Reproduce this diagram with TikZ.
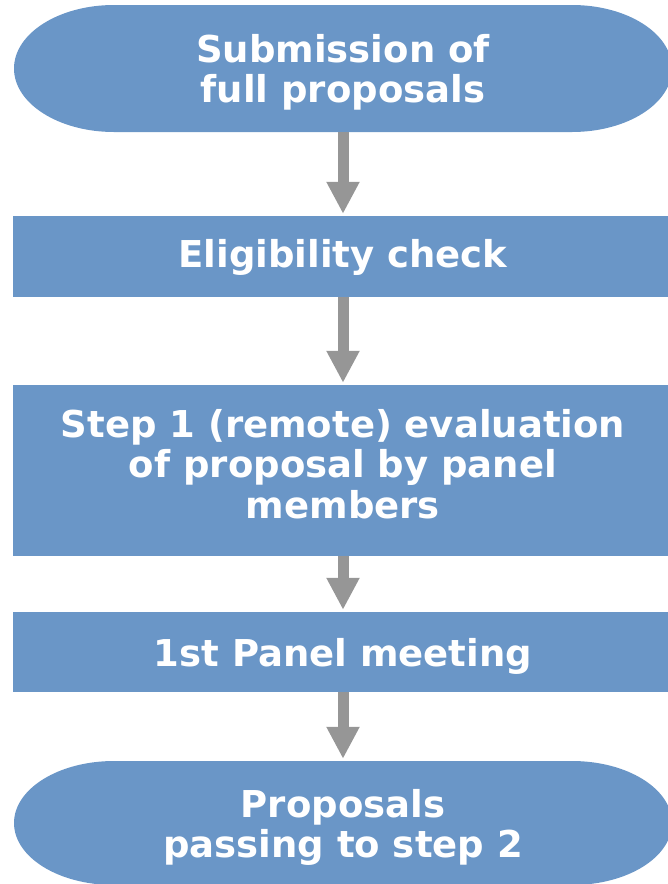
\documentclass[tikz,border=0pt]{standalone}
\usepackage{fontspec}
\setmainfont{DejaVu Sans}
\usetikzlibrary{arrows.meta}
\definecolor{boxblue}{RGB}{106,150,199}
\definecolor{arrowgray}{RGB}{150,150,150}
\tikzset{
  steptext/.style={text=white, font=\bfseries\fontsize{37}{40.5}\selectfont, align=center, inner sep=0pt, minimum width=660pt},
  stepbox/.style={steptext, fill=boxblue},
  flowarrow/.style={draw=arrowgray, line width=11pt, -{Triangle[width=31pt,length=32pt,fill=arrowgray]}, shorten >=2pt},
}
\def\termfill#1#2{\fill[boxblue, shift={(#1)}] (-229,#2) -- (229,#2) arc[start angle=90, end angle=-90, x radius=100, y radius=#2] -- (-229,-#2) arc[start angle=270, end angle=90, x radius=100, y radius=#2] -- cycle;}

\begin{document}
\begin{tikzpicture}[x=1pt, y=1pt]
        \useasboundingbox (0,0) rectangle (668,-884);
        \coordinate (c1) at (343,-68.5);
        \coordinate (c5) at (343,-823);
        \termfill{c1}{63.5}
        \termfill{c5}{62}
        \node[steptext, minimum height=119pt] (sub) at (343,-72.5) {Submission of\\full proposals};
        \node[stepbox, minimum height=81pt, text height=30pt] (elig) at (343,-256.5) {Eligibility check};
        \node[stepbox, minimum height=171pt, text depth=14pt] (remote) at (343,-470.5) {Step 1 (remote) evaluation\\of proposal by panel\\members};
        \node[stepbox, minimum height=80pt, text height=36pt] (panel) at (343,-652) {1st Panel meeting};
        \node[steptext, minimum height=133pt] (pass) at (343,-827.5) {Proposals\\passing to step 2};
        \foreach \a/\b in {sub/elig, elig/remote, remote/panel, panel/pass}{
          \draw[flowarrow] (\a.south) -- (\b.north);
        }
      \end{tikzpicture}
\end{document}
